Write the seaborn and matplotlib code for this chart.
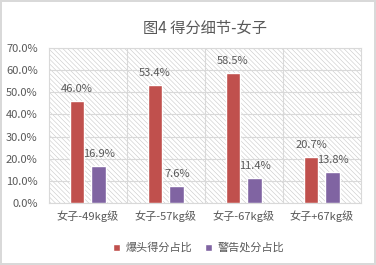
import matplotlib
matplotlib.use("Agg")
import matplotlib.pyplot as plt
import seaborn as sns
import pandas as pd
from matplotlib.ticker import FuncFormatter, FixedLocator

categories = ["女子-49kg级", "女子-57kg级", "女子-67kg级", "女子+67kg级"]
series_names = ["爆头得分占比", "警告处分占比"]
headshot = [46.0, 53.4, 58.5, 20.7]
warning = [16.9, 7.6, 11.4, 13.8]
title = "图4 得分细节-女子"

df = pd.DataFrame({
    "cat": categories * 2,
    "series": [series_names[0]] * 4 + [series_names[1]] * 4,
    "value": headshot + warning,
})

sns.set_theme(style="white")
plt.rcParams["font.family"] = ["Noto Sans CJK SC", "DejaVu Sans"]
plt.rcParams["hatch.linewidth"] = 0.4
plt.rcParams["hatch.color"] = "#c8c8c8"

text_c = "#595959"
grid_c = "#d9d9d9"

fig = plt.figure(figsize=(3.76, 2.65), dpi=100)
fig.patch.set_facecolor("white")
fig.patch.set_edgecolor("#d9d9d9")
fig.patch.set_linewidth(1.5)
ax = fig.add_axes([0.130, 0.234, 0.830, 0.585])

ax.patch.set_facecolor("white")
ax.patch.set_hatch("\\\\\\\\\\\\\\")
ax.patch.set_edgecolor("#c8c8c8")

sns.barplot(data=df, x="cat", y="value", hue="series", order=categories,
            hue_order=series_names, palette=["#C0504D", "#8064A2"],
            saturation=1, width=0.56, gap=0.32, ax=ax, zorder=3, legend=True)

ax.set_ylim(0, 70)
ax.set_xlim(-0.5, 3.5)
ax.yaxis.set_major_locator(FixedLocator([0, 10, 20, 30, 40, 50, 60, 70]))
ax.yaxis.set_major_formatter(FuncFormatter(lambda v, p: f"{v:.1f}%"))
ax.xaxis.set_minor_locator(FixedLocator([0.5, 1.5, 2.5]))
ax.grid(axis="y", which="major", color=grid_c, linewidth=0.8, zorder=1)
ax.grid(axis="x", which="minor", color=grid_c, linewidth=0.8, zorder=1)
ax.set_axisbelow(True)
for s in ax.spines.values():
    s.set_color(grid_c)
    s.set_linewidth(0.8)
ax.tick_params(axis="both", which="both", length=0, colors=text_c, labelsize=8)
ax.tick_params(axis="x", pad=5)
ax.tick_params(axis="y", pad=8)
ax.set_xlabel("")
ax.set_ylabel("")

for cont in ax.containers:
    ax.bar_label(cont, labels=[f"{v:.1f}%" for v in cont.datavalues],
                 padding=5, fontsize=8, color=text_c)

ax.set_title(title, fontsize=11, color=text_c, pad=11)

leg = ax.legend(loc="upper center", bbox_to_anchor=(0.48, -0.19), ncol=2,
                frameon=False, fontsize=8, handlelength=0.6, handleheight=0.6,
                columnspacing=1.2, handletextpad=0.5, labelcolor=text_c)

fig.savefig("out.png", dpi=100, facecolor=fig.get_facecolor(),
            edgecolor=fig.get_edgecolor())
